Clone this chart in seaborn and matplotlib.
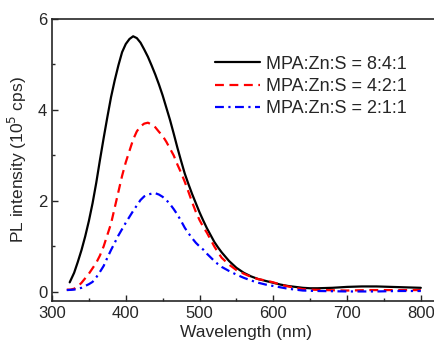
import numpy as np
import pandas as pd
import matplotlib
matplotlib.use("Agg")
import matplotlib.pyplot as plt
import seaborn as sns
from matplotlib.ticker import MultipleLocator

sns.set_style("ticks")
plt.rcParams['font.family'] = ['Liberation Sans', 'DejaVu Sans']

# wavelength (nm) / intensity (10^5 cps)
wl_841 = [324, 330, 335, 340, 345, 350, 355, 360, 365, 370, 375, 380, 385, 390, 395,
          400, 405, 410, 415, 420, 425, 430, 435, 440, 445, 450, 455, 460, 465, 470,
          475, 480, 485, 490, 495, 500, 505, 510, 515, 520, 525, 530, 540, 550, 560,
          570, 580, 590, 600, 610, 620, 630, 640, 650, 660, 680, 700, 720, 740, 760,
          780, 800]
pl_841 = [0.21, 0.42, 0.66, 0.92, 1.22, 1.56, 1.95, 2.40, 2.90, 3.38, 3.84, 4.28, 4.65, 4.98, 5.27,
          5.45, 5.56, 5.62, 5.58, 5.48, 5.33, 5.17, 4.98, 4.78, 4.56, 4.32, 4.05, 3.78, 3.48, 3.17,
          2.88, 2.60, 2.37, 2.15, 1.95, 1.75, 1.57, 1.40, 1.25, 1.10, 0.98, 0.87, 0.68, 0.53, 0.42,
          0.34, 0.28, 0.24, 0.20, 0.16, 0.13, 0.11, 0.09, 0.08, 0.08, 0.09, 0.11, 0.12, 0.12, 0.11,
          0.10, 0.09]

wl_421 = [320, 325, 330, 335, 340, 345, 350, 355, 360, 365, 370, 375, 380, 385, 390,
          395, 400, 405, 410, 415, 420, 425, 430, 435, 440, 445, 450, 455, 460, 465,
          470, 475, 480, 485, 490, 495, 500, 505, 510, 515, 520, 525, 530, 540, 550,
          560, 570, 580, 590, 600, 610, 620, 630, 640, 650, 670, 700, 730, 760, 800]
pl_421 = [0.05, 0.05, 0.07, 0.12, 0.20, 0.30, 0.40, 0.52, 0.64, 0.80, 1.00, 1.25, 1.50, 1.85, 2.20,
          2.55, 2.85, 3.10, 3.35, 3.53, 3.64, 3.70, 3.72, 3.68, 3.62, 3.52, 3.43, 3.30, 3.15, 3.00,
          2.80, 2.62, 2.42, 2.20, 1.97, 1.76, 1.58, 1.43, 1.30, 1.15, 1.00, 0.87, 0.75, 0.60, 0.48,
          0.40, 0.33, 0.28, 0.25, 0.21, 0.16, 0.12, 0.09, 0.06, 0.05, 0.04, 0.03, 0.04, 0.04, 0.04]

wl_211 = [320, 330, 340, 345, 350, 355, 360, 365, 370, 375, 380, 385, 390, 395, 400,
          405, 410, 415, 420, 425, 430, 435, 440, 445, 450, 455, 460, 465, 470, 475,
          480, 485, 490, 495, 500, 505, 510, 515, 520, 525, 530, 540, 550, 560, 570,
          580, 590, 600, 610, 620, 630, 640, 660, 700, 740, 770, 800]
pl_211 = [0.04, 0.05, 0.09, 0.13, 0.17, 0.22, 0.32, 0.44, 0.57, 0.75, 0.92, 1.08, 1.24, 1.38, 1.52,
          1.65, 1.78, 1.90, 2.02, 2.10, 2.14, 2.16, 2.17, 2.14, 2.09, 2.02, 1.93, 1.82, 1.70, 1.56,
          1.41, 1.29, 1.18, 1.08, 1.00, 0.93, 0.84, 0.76, 0.68, 0.61, 0.55, 0.46, 0.38, 0.31, 0.25,
          0.20, 0.16, 0.13, 0.10, 0.07, 0.05, 0.03, 0.02, 0.01, 0.01, 0.02, 0.02]

labels = ["MPA:Zn:S = 8:4:1", "MPA:Zn:S = 4:2:1", "MPA:Zn:S = 2:1:1"]

df = pd.concat([
    pd.DataFrame({"wl": wl_841, "pl": pl_841, "ratio": labels[0]}),
    pd.DataFrame({"wl": wl_421, "pl": pl_421, "ratio": labels[1]}),
    pd.DataFrame({"wl": wl_211, "pl": pl_211, "ratio": labels[2]}),
])

fig = plt.figure(figsize=(4.34, 3.43), dpi=100)
ax = fig.add_axes([52 / 434, 42 / 343, 388 / 434, 282 / 343])

sns.lineplot(data=df, x="wl", y="pl", hue="ratio", style="ratio",
             palette=["black", "red", "blue"],
             dashes=["", (4, 2.5), (4, 2, 1, 2)],
             linewidth=1.6, ax=ax, sort=True)

ax.set_xlim(300, 826)
ax.set_ylim(-0.2, 6)
ax.xaxis.set_major_locator(MultipleLocator(100))
ax.xaxis.set_minor_locator(MultipleLocator(50))
ax.yaxis.set_major_locator(MultipleLocator(2))
ax.yaxis.set_minor_locator(MultipleLocator(1))
ax.tick_params(which="both", direction="in", labelsize=12, width=1)
ax.tick_params(which="major", length=4)
ax.tick_params(which="minor", length=2.5)
for s in ax.spines.values():
    s.set_linewidth(1.2)
    s.set_visible(True)

ax.set_xlabel("Wavelength (nm)", fontsize=12.5, labelpad=3)
ax.set_ylabel("PL intensity (10$^5$ cps)", fontsize=12.5, labelpad=6)

leg = ax.legend(loc="upper left", bbox_to_anchor=(0.42, 0.87), frameon=False,
                fontsize=13, handlelength=2.5, handletextpad=0.3, labelspacing=0.3,
                borderaxespad=0, borderpad=0)
for h in leg.get_lines():
    h.set_linewidth(1.6)

fig.savefig("out.png", dpi=100)
